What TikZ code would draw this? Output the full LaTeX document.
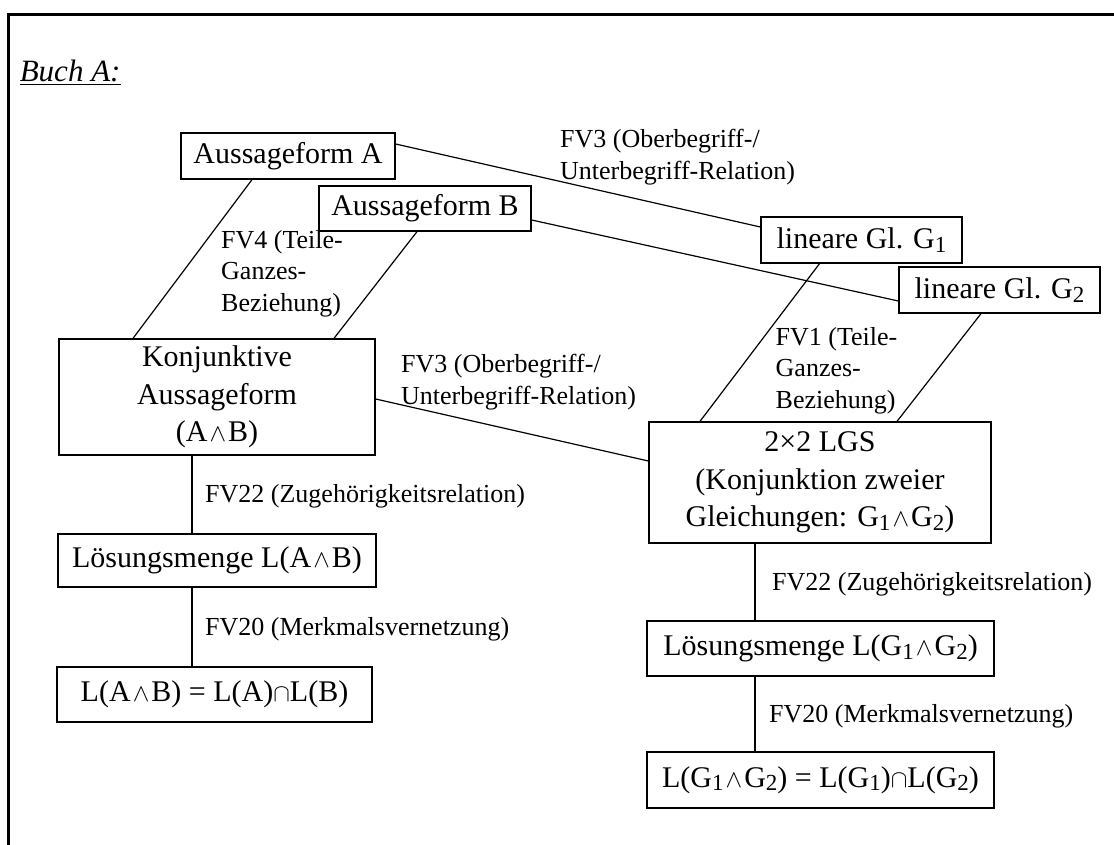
\documentclass[tikz,border=0pt]{standalone}
\usepackage{fontspec}
\setmainfont{Liberation Serif}
\newcommand\gsub[1]{\raisebox{-3.5pt}{\fontsize{23}{23}\selectfont #1}}
\newcommand\wdg{$\mkern1.5mu\wedge\mkern1.5mu$}
\begin{document}
\begin{tikzpicture}[x=1pt,y=-1pt,
  box/.style={draw,line width=1.3pt,inner sep=0pt,align=center,font=\fontsize{30}{37.5}\selectfont},
  lbl/.style={inner sep=0pt,align=left,font=\fontsize{26}{31.5}\selectfont},
  conn/.style={line width=1.2pt}]
\useasboundingbox (0,0) rectangle (1114,845);
\draw[line width=3pt] (1114,14.7) -- (8.5,14.7) -- (8.5,845);

\node[anchor=base west,inner sep=0pt,font=\fontsize{31}{36}\selectfont\itshape] (title) at (19.6,82) {\underline{Buch A:}};

\node[box,minimum width=214pt,minimum height=46pt] (A) at (288,156) {Aussageform A};
\node[box,minimum width=212pt,minimum height=45pt] (B) at (425,208.5) {Aussageform B};
\node[box,minimum width=316pt,minimum height=116pt] (K) at (217,397) {Konjunktive\\Aussageform\\(A\wdg B)};
\node[box,minimum width=318pt,minimum height=53pt] (LAB) at (217,560.5) {Lösungsmenge L(A\wdg B)};
\node[box,minimum width=315pt,minimum height=55pt] (LEQ) at (214.5,694.5) {L(A\wdg B) = L(A)$\cap$L(B)};
\node[box,minimum width=201pt,minimum height=46pt] (G1) at (861.5,240) {lineare Gl. G\gsub{1}};
\node[box,minimum width=201pt,minimum height=46pt] (G2) at (999.5,290) {lineare Gl. G\gsub{2}};
\node[box,minimum width=342pt,minimum height=121pt] (LGS) at (820,482.5) {2×2 LGS\\(Konjunktion zweier\\Gleichungen: G\gsub{1}\wdg G\gsub{2})};
\node[box,minimum width=347pt,minimum height=55pt] (LG) at (820.5,648.5) {Lösungsmenge L(G\gsub{1}\wdg G\gsub{2})};
\node[box,minimum width=347pt,minimum height=56pt] (LGEQ) at (820.5,780) {L(G\gsub{1}\wdg G\gsub{2}) = L(G\gsub{1})$\cap$L(G\gsub{2})};

\draw[conn] ([yshift=12pt]A.east) -- ([yshift=13pt]G1.west);
\draw[conn] ([yshift=-11.5pt]B.east) -- ([yshift=-11pt]G2.west);
\draw[conn] ([xshift=-36pt]A.south) -- ([xshift=-84pt]K.north);
\draw[conn] ([xshift=-8pt]B.south) -- ([xshift=117pt]K.north);
\draw[conn] ([yshift=-2pt]K.east) -- ([yshift=21.5pt]LGS.west);
\draw[conn] ([xshift=-42pt]G1.south) -- ([xshift=-120pt]LGS.north);
\draw[conn] ([xshift=-18.5pt]G2.south) -- ([xshift=77pt]LGS.north);
\draw[conn] ([xshift=-25pt]K.south) -- ([xshift=-25pt]LAB.north);
\draw[conn] ([xshift=-25pt]LAB.south) -- ([xshift=-22.5pt]LEQ.north);
\draw[conn] ([xshift=-65pt]LGS.south) -- ([xshift=-65.5pt]LG.north);
\draw[conn] ([xshift=-65.5pt]LG.south) -- ([xshift=-65.5pt]LGEQ.north);

\node[lbl,anchor=north west] (l3a) at (560,129) {FV3 (Oberbegriff-/\\Unterbegriff-Relation)};
\node[lbl,anchor=north west] (l4) at (221,230) {FV4 (Teile-\\Ganzes-\\Beziehung)};
\node[lbl,anchor=north west] (l1) at (775.5,327) {FV1 (Teile-\\Ganzes-\\Beziehung)};
\node[lbl,anchor=north west] (l3b) at (401,354) {FV3 (Oberbegriff-/\\Unterbegriff-Relation)};
\node[lbl,anchor=base west] (l22a) at (205,502) {FV22 (Zugehörigkeitsrelation)};
\node[lbl,anchor=base west] (l20a) at (205,635) {FV20 (Merkmalsvernetzung)};
\node[lbl,anchor=base west] (l22b) at (772,590) {FV22 (Zugehörigkeitsrelation)};
\node[lbl,anchor=base west] (l20b) at (769,722) {FV20 (Merkmalsvernetzung)};
\end{tikzpicture}
\end{document}
